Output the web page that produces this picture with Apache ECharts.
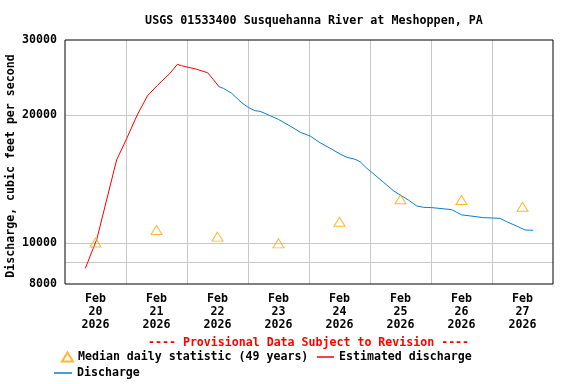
<!DOCTYPE html>
<html><head><meta charset="utf-8">
<script src="https://cdn.jsdelivr.net/npm/echarts@6/dist/echarts.min.js"></script>
<style>html,body{margin:0;padding:0;background:#fff}#c{width:576px;height:384px}</style>
</head><body><div id="c"></div>
<script>
// x values are hours since Feb 20 2026 00:00
const dayNames = ['20','21','22','23','24','25','26','27'];
const monthName = 'Feb';
const yearName = '2026';
const dayLabelHours = [12,36,60,84,108,132,156,180];

const medianHours  = [12,36,60,84,108,132,156,180];
const medianValues = [10020,10720,10340,9970,11210,12660,12610,12160];

const estHours  = [8.0,12.5,20.3,24.0,28.4,32.4,36.1,41.3,44.2,45.9,49.2,51.8,56.1,58.3,60.6];
const estValues = [8710,10190,15660,17450,19980,22150,23380,25050,26300,26100,25820,25600,25130,24240,23290];

const disHours  = [60.6,62.3,65.6,69.5,72.3,74.8,76.7,80.7,83.9,88.5,91.2,92.5,96.4,100.3,104.3,108.2,110.8,114.1,116.1,118.7,120.7,123.9,126.6,129.2,131.8,135.1,138.4,141.0,144.3,144.9,152.1,154.1,156.1,159.3,160.0,164.6,171.1,173.8,177.7,181.0,184.2];
const disValues = [23290,23090,22470,21360,20790,20450,20390,19910,19520,18830,18420,18200,17840,17200,16690,16180,15900,15720,15520,14980,14650,14110,13680,13260,12960,12610,12210,12120,12100,12010,11970,11800,11630,11570,11480,11460,11420,11210,10950,10720,10700];

const yLabelValues = [8000,10000,20000,30000];
const yGridValues  = [8000,9000,10000,20000,30000];

const FF = 'DejaVu Sans Mono';
const zip = (a,b) => a.map((v,i)=>[v,b[i]]);

const chart = echarts.init(document.getElementById('c'), null, {renderer:'canvas'});
chart.setOption({
  backgroundColor:'#fff',
  animation:false,
  title:{
    text:'USGS 01533400 Susquehanna River at Meshoppen, PA',
    left:309, top:10, textAlign:'center',
    textStyle:{fontFamily:FF, fontWeight:'bold', fontSize:11.7, color:'#000'}
  },
  grid:{left:65, top:40, width:488, height:244, show:true, borderColor:'#000', borderWidth:1, backgroundColor:'transparent', z:5},
  xAxis:{
    type:'value', min:0, max:192, interval:24,
    axisLine:{show:false}, axisTick:{show:false},
    axisLabel:{
      customValues: dayLabelHours,
      formatter: v => monthName + '\n' + dayNames[Math.floor(v/24)] + '\n' + yearName,
      fontFamily:FF, fontWeight:'bold', fontSize:11.6, color:'#000', lineHeight:13, margin:8
    },
    splitLine:{show:true, showMinLine:false, showMaxLine:false, lineStyle:{color:'#c8c8c8', width:1}}
  },
  yAxis:{
    type:'log', logBase:10, min:8000, max:30000,
    axisLine:{show:false},
    axisTick:{show:false, customValues: yGridValues},
    axisLabel:{customValues: yLabelValues, formatter: v => String(Math.round(v)), fontFamily:FF, fontWeight:'bold', fontSize:11.6, color:'#000', margin:8},
    splitLine:{show:true, showMinLine:false, showMaxLine:false, lineStyle:{color:'#c8c8c8', width:1}}
  },
  legend:[
    {data:[{name:'Median daily statistic (49 years)', icon:'triangle'}], left:56, top:346, itemWidth:11, itemHeight:9, selectedMode:false,
     textStyle:{fontFamily:FF, fontWeight:'bold', fontSize:11.6, color:'#000'}},
    {data:[{name:'Estimated discharge', icon:'rect'}], left:312, top:346, itemWidth:17, itemHeight:1.5, selectedMode:false,
     textStyle:{fontFamily:FF, fontWeight:'bold', fontSize:11.6, color:'#000'}},
    {data:[{name:'Discharge', icon:'rect'}], left:49, top:362, itemWidth:18, itemHeight:1.5, selectedMode:false,
     textStyle:{fontFamily:FF, fontWeight:'bold', fontSize:11.6, color:'#000'}}
  ],
  graphic:[
    {type:'text', left:148, top:337, style:{text:'---- Provisional Data Subject to Revision ----', fill:'#ff0000', font:'bold 11.6px "DejaVu Sans Mono"'}},
    {type:'text', x:11, y:166, rotation:Math.PI/2, style:{text:'Discharge, cubic feet per second', fill:'#000', font:'bold 11.6px "DejaVu Sans Mono"', align:'center', verticalAlign:'middle'}}
  ],
  series:[
    {name:'Estimated discharge', type:'line', data:zip(estHours, estValues), showSymbol:false, color:'#ff0000', lineStyle:{width:1, color:'#ff0000'}, z:3},
    {name:'Discharge', type:'line', data:zip(disHours, disValues), showSymbol:false, color:'#0a7fcf', lineStyle:{width:1, color:'#0a7fcf'}, z:3},
    {name:'Median daily statistic (49 years)', type:'scatter', data:zip(medianHours, medianValues), symbol:'triangle', symbolSize:[11,9],
     itemStyle:{color:'transparent', borderColor:'#ffa500', borderWidth:1}, z:4}
  ]
});
</script></body></html>
